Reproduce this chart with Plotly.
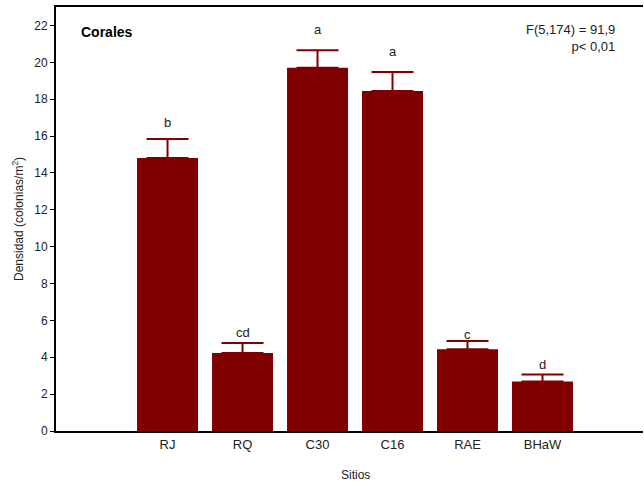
import plotly.graph_objects as go

sites = ["RJ", "RQ", "C30", "C16", "RAE", "BHaW"]
density = [14.81, 4.23, 19.70, 18.45, 4.43, 2.69]
err_up = [1.03, 0.54, 0.96, 1.03, 0.45, 0.38]
letters = ["b", "cd", "a", "a", "c", "d"]
letter_y = [16.74, 5.34, 21.79, 20.59, 5.24, 3.61]
y_ticks = list(range(0, 23, 2))

FONT = "Liberation Sans, Arial, sans-serif"
W, H = 644, 481
l, r, t, b = 56, 1, 7, 50
pw, ph = W - l - r, H - t - b


def px(x, y):
    return (x - l) / pw, 1 - (y - t) / ph


fig = go.Figure()
fig.add_trace(go.Bar(
    x=sites, y=density,
    marker=dict(color="#800000", line=dict(width=0)),
    error_y=dict(type="data", array=err_up, arrayminus=[0] * len(err_up),
                 symmetric=False, color="#800000", thickness=2, width=21),
    showlegend=False,
))

for s, tx_, yy in zip(sites, letters, letter_y):
    fig.add_annotation(x=s, y=yy, text=tx_, showarrow=False,
                       font=dict(family=FONT, size=13, color="#222"),
                       xref="x", yref="y", yanchor="middle")

ax, ay = px(79, 32)
fig.add_annotation(x=ax, y=ay, xref="paper", yref="paper", text="<b>Corales</b>",
                   showarrow=False, xanchor="left", yanchor="middle",
                   font=dict(family=FONT, size=14, color="#000"))
fx, fy = px(617, 38)
fig.add_annotation(x=fx, y=fy, xref="paper", yref="paper",
                   text="F(5,174) = 91,9<br>p< 0,01", align="right",
                   showarrow=False, xanchor="right", yanchor="middle",
                   font=dict(family=FONT, size=13, color="#222"))
sx, sy = px(355, 475)
fig.add_annotation(x=sx, y=sy, xref="paper", yref="paper", text="Sitios",
                   showarrow=False, xanchor="center", yanchor="middle",
                   font=dict(family=FONT, size=12, color="#222"))
tx, ty = px(18, 219)
fig.add_annotation(x=tx, y=ty, xref="paper", yref="paper",
                   text="Densidad (colonias/m<sup>2</sup>)", textangle=-90,
                   showarrow=False, xanchor="center", yanchor="middle",
                   font=dict(family=FONT, size=12, color="#222"))

fig.update_layout(
    width=W, height=H,
    margin=dict(l=l, r=r, t=t, b=b, autoexpand=False),
    paper_bgcolor="white", plot_bgcolor="white",
    bargap=0.187,
    font=dict(family=FONT, size=12, color="#222"),
    xaxis=dict(range=[-1.487, 6.34], showline=True, linecolor="#000", linewidth=2,
               mirror=True, ticks="", showgrid=False, zeroline=False,
               tickfont=dict(family=FONT, size=13, color="#222")),
    yaxis=dict(range=[0, 23], tickvals=y_ticks, showline=True, linecolor="#000",
               linewidth=2, ticks="outside", ticklen=4, tickwidth=1, tickcolor="#000",
               showgrid=False, zeroline=False,
               tickfont=dict(family=FONT, size=12, color="#222")),
)

fig.write_html("out.html", config={"displayModeBar": False},
               post_script="document.body.style.margin='0px';document.body.style.padding='0px';")
